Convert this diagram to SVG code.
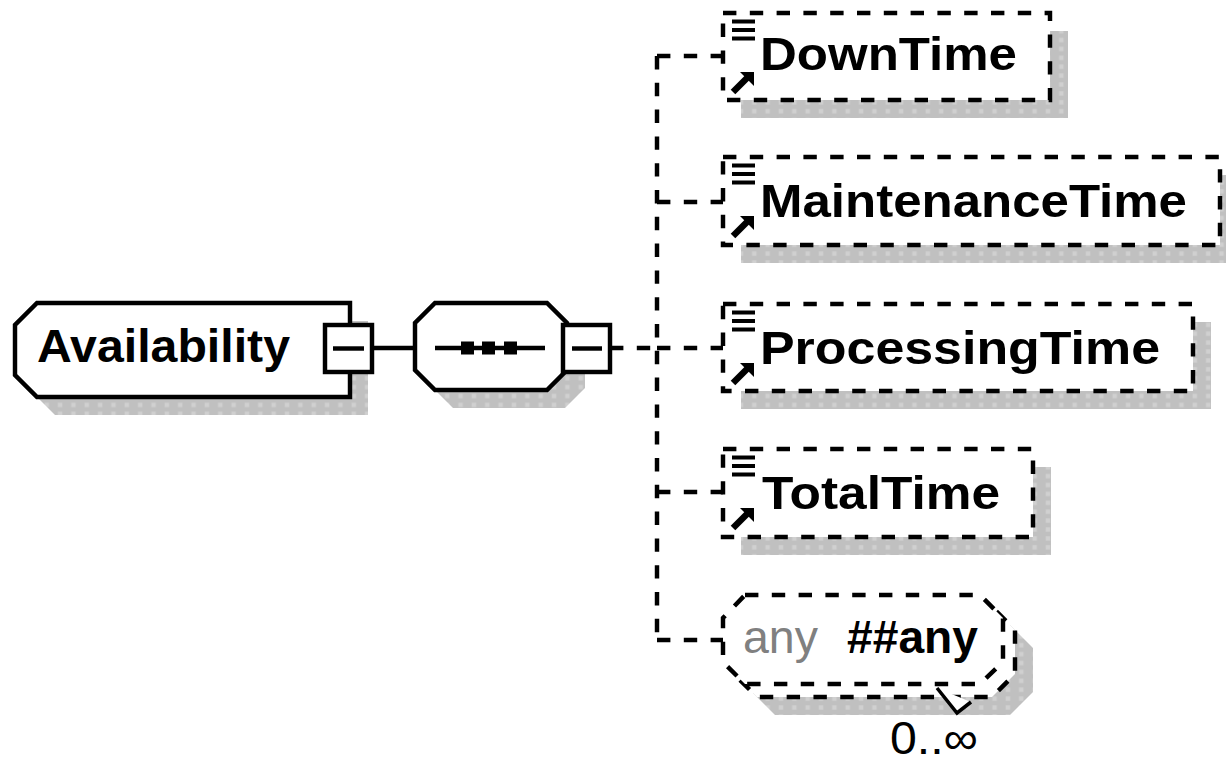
<svg xmlns="http://www.w3.org/2000/svg" xmlns:xlink="http://www.w3.org/1999/xlink" width="1226" height="763" viewBox="0 0 1226 763">
<style>
.solid{fill:#fff;stroke:#000;stroke-width:4.45}
.dash{fill:#fff;stroke:#000;stroke-width:4.45;stroke-dasharray:13.4 13.4}
.conn{fill:none;stroke:#000;stroke-width:4.45}
.conn-d{fill:none;stroke:#000;stroke-width:4.45;stroke-dasharray:13.4 13.4}
.shadow{fill:url(#dots);stroke:none}
.lbl{font-family:"Liberation Sans",Arial,sans-serif;font-weight:bold;font-size:47px;fill:#000}
.reg{font-family:"Liberation Sans",Arial,sans-serif;font-size:46px}
</style>
<defs>
<pattern id="dots" width="13.35" height="8.9" patternUnits="userSpaceOnUse">
<rect width="13.35" height="8.9" fill="#c0c0c0"/>
<rect x="4.45" y="2.2" width="4.45" height="4.45" fill="#d0d0d0"/>
</pattern>
<g id="icons">
<path d="M9 8.5H32M9 17H32M9 25.5H32" stroke="#000" stroke-width="4" fill="none"/>
<polygon points="17,59 31,59 31,73" fill="#000"/>
<path d="M10 79L26 63" stroke="#000" stroke-width="6.5" fill="none"/>
</g>
</defs>

<g id="connectors">
<path class="conn" d="M372 348H415"/>
<path class="conn-d" d="M610 348H657"/>
<path class="conn-d" d="M657 56V640"/>
<path class="conn-d" d="M657 56H723M657 202H723M657 348H723M657 492H723M657 640H723"/>
</g>

<g id="Availability">
<polygon class="shadow" points="55,321 368,321 368,415 55,415 33,393 33,343"/>
<polygon class="solid" points="37,303 350,303 350,397 37,397 15,375 15,325"/>
<text class="lbl" x="37" y="362" font-size="45" textLength="253" lengthAdjust="spacingAndGlyphs">Availability</text>
<rect class="solid" x="325" y="325" width="47" height="47"/>
<path class="conn" d="M333 348.5H364"/>
</g>

<g id="sequence">
<polygon class="shadow" points="453,321 565,321 585,341 585,388 565,408 453,408 433,388 433,341"/>
<polygon class="solid" points="435,303 547,303 567,323 567,370 547,390 435,390 415,370 415,323"/>
<path class="conn" d="M435 348H545"/>
<rect x="461" y="341.5" width="13" height="13"/>
<rect x="482" y="341.5" width="13" height="13"/>
<rect x="504" y="341.5" width="13" height="13"/>
<rect class="solid" x="563" y="325" width="47" height="47"/>
<path class="conn" d="M572 348.5H602"/>
</g>

<g id="DownTime">
<rect class="shadow" x="741" y="31" width="327" height="87"/>
<rect class="dash" x="723" y="13" width="327" height="87"/>
<use xlink:href="#icons" x="723" y="13"/>
<text class="lbl" x="760" y="70" textLength="257" lengthAdjust="spacingAndGlyphs">DownTime</text>
</g>

<g id="MaintenanceTime">
<rect class="shadow" x="741" y="175" width="497" height="88"/>
<rect class="dash" x="723" y="157" width="497" height="88"/>
<use xlink:href="#icons" x="723" y="157"/>
<text class="lbl" x="760" y="217" textLength="427" lengthAdjust="spacingAndGlyphs">MaintenanceTime</text>
</g>

<g id="ProcessingTime">
<rect class="shadow" x="741" y="322" width="470" height="87"/>
<rect class="dash" x="723" y="304" width="470" height="87"/>
<use xlink:href="#icons" x="723" y="304"/>
<text class="lbl" x="760" y="364" textLength="400" lengthAdjust="spacingAndGlyphs">ProcessingTime</text>
</g>

<g id="TotalTime">
<rect class="shadow" x="741" y="467" width="310" height="88"/>
<rect class="dash" x="723" y="449" width="310" height="88"/>
<use xlink:href="#icons" x="723" y="449"/>
<text class="lbl" x="762" y="509" textLength="238" lengthAdjust="spacingAndGlyphs">TotalTime</text>
</g>

<g id="any">
<polygon class="shadow" points="775,625 1010,625 1033,648 1033,692 1010,715 775,715 753,693 753,648"/>
<polygon class="dash" points="757,607 992,607 1015,630 1015,674 992,697 757,697 735,675 735,630"/>
<polygon class="dash" points="745,595 980,595 1003,618 1003,662 980,684 745,684 723,662 723,618"/>
<text class="reg" x="743" y="653" fill="#808080" textLength="75" lengthAdjust="spacingAndGlyphs">any</text>
<text class="lbl" x="847" y="653" font-size="46" textLength="131" lengthAdjust="spacingAndGlyphs">##any</text>
<polyline points="937,688 957,713 971,702" fill="#fff" stroke="#000" stroke-width="3.5"/>
<text class="reg" x="890" y="754" font-size="42" fill="#000" textLength="88" lengthAdjust="spacingAndGlyphs">0..∞</text>
</g>
</svg>
